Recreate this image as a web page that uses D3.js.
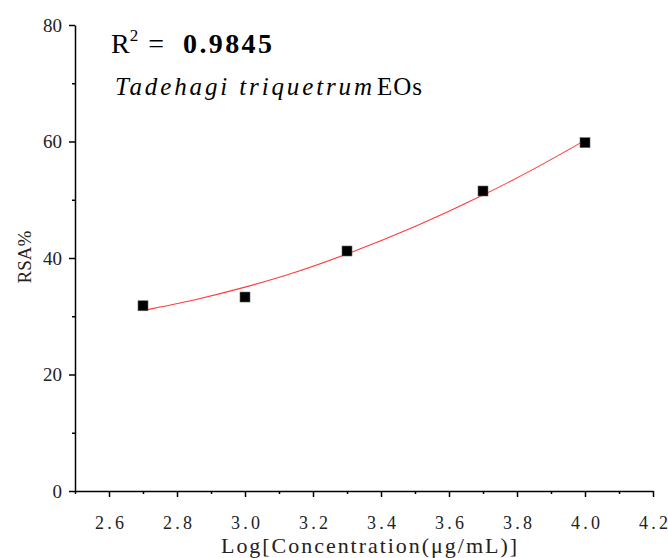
<!DOCTYPE html>
<html>
<head>
<meta charset="utf-8">
<script src="https://cdn.jsdelivr.net/npm/d3@7"></script>
<style>
  body { margin: 0; background: #fff; }
  svg { display: block; }
</style>
</head>
<body>
<script>
// 测得的数据点
var concLog = [2.7, 3.0, 3.3, 3.7, 4.0];
var rsa = [31.8, 33.3, 41.2, 51.5, 59.8];
// 拟合曲线上读出的点
var fitX = [2.7, 2.85, 3.0, 3.15, 3.3, 3.5, 3.7, 3.85, 4.0];
var fitY = [31.0, 32.8, 35.0, 37.6, 40.7, 45.4, 50.8, 55.3, 60.2];
// 刻度
var xMajor = [2.6, 2.8, 3.0, 3.2, 3.4, 3.6, 3.8, 4.0, 4.2];
var xMinor = [2.5, 2.7, 2.9, 3.1, 3.3, 3.5, 3.7, 3.9, 4.1];
var yMajor = [0, 20, 40, 60, 80];
var yMinor = [10, 30, 50, 70];

var svg = d3.select("body").append("svg").attr("width", 668).attr("height", 558);
var margin = { top: 25, right: 15, bottom: 67, left: 75 };
var width = +svg.attr("width") - margin.left - margin.right;
var height = +svg.attr("height") - margin.top - margin.bottom;
var g = svg.append("g").attr("transform", "translate(" + margin.left + "," + margin.top + ")");

var x = d3.scaleLinear().domain([2.5, 4.2]).range([0, width]);
var y = d3.scaleLinear().domain([0, 80]).range([height, 0]);

// x轴
var gx = g.append("g")
    .attr("transform", "translate(0," + height + ")")
    .call(d3.axisBottom(x).tickValues(xMajor).tickSize(6).tickSizeOuter(0).tickFormat(d3.format(".1f")));
gx.append("g").call(d3.axisBottom(x).tickValues(xMinor).tickSize(3).tickFormat(""))
    .select(".domain").remove();
gx.selectAll("text")
    .attr("dy", "1.6em")
    .attr("font-family", "Liberation Serif")
    .attr("font-size", 18)
    .attr("fill", "#222")
    .attr("textLength", 29)
    .attr("lengthAdjust", "spacing");

// y轴
var gy = g.append("g")
    .call(d3.axisLeft(y).tickValues(yMajor).tickSize(6).tickSizeOuter(0));
gy.append("g").call(d3.axisLeft(y).tickValues(yMinor).tickSize(3).tickFormat(""))
    .select(".domain").remove();
gy.selectAll("text")
    .attr("x", -13)
    .attr("font-family", "Liberation Serif")
    .attr("font-size", 19)
    .attr("fill", "#222");

svg.selectAll(".domain, .tick line").attr("stroke", "#000").attr("stroke-width", 1.5);

// 拟合曲线
var line = d3.line()
    .x(function (d, i) { return x(fitX[i]); })
    .y(function (d) { return y(d); })
    .curve(d3.curveMonotoneX);
g.append("path")
    .attr("d", line(fitY))
    .attr("fill", "none")
    .attr("stroke", "#ff3b3b")
    .attr("stroke-width", 1.1);

// 数据点
g.selectAll(".pt")
    .data(rsa)
    .enter().append("rect")
    .attr("class", "pt")
    .attr("x", function (d, i) { return x(concLog[i]) - 5; })
    .attr("y", function (d) { return y(d) - 5; })
    .attr("width", 10)
    .attr("height", 10)
    .attr("fill", "#000")
    .attr("stroke", "#666")
    .attr("stroke-width", 0.6);

// 轴标题
svg.append("text")
    .attr("x", 221).attr("y", 553)
    .attr("font-family", "Liberation Serif")
    .attr("font-size", 22)
    .attr("fill", "#222")
    .attr("textLength", 296)
    .attr("lengthAdjust", "spacing")
    .text("Log[Concentration(μg/mL)]");

svg.append("text")
    .attr("transform", "translate(31,257) rotate(-90)")
    .attr("text-anchor", "middle")
    .attr("font-family", "Liberation Serif")
    .attr("font-size", 19)
    .attr("fill", "#222")
    .text("RSA%");

// 注释
var r2 = svg.append("text")
    .attr("x", 111).attr("y", 53)
    .attr("font-family", "Liberation Serif")
    .attr("font-size", 28)
    .attr("fill", "#000");
r2.append("tspan").text("R");
r2.append("tspan").attr("font-size", 17).attr("dy", -12).text("2");
r2.append("tspan").attr("dy", 12).attr("dx", 10).text("=");
r2.append("tspan").attr("x", 183).attr("font-weight", "bold")
    .attr("textLength", 89).attr("lengthAdjust", "spacing").text("0.9845");

svg.append("text")
    .attr("x", 115).attr("y", 95)
    .attr("font-family", "Liberation Serif")
    .attr("font-style", "italic")
    .attr("font-size", 25)
    .attr("fill", "#000")
    .attr("textLength", 257)
    .attr("lengthAdjust", "spacing")
    .text("Tadehagi triquetrum");
svg.append("text")
    .attr("x", 377).attr("y", 95)
    .attr("font-family", "Liberation Serif")
    .attr("font-size", 25)
    .attr("fill", "#000")
    .attr("textLength", 45)
    .attr("lengthAdjust", "spacing")
    .text("EOs");
</script>
</body>
</html>
